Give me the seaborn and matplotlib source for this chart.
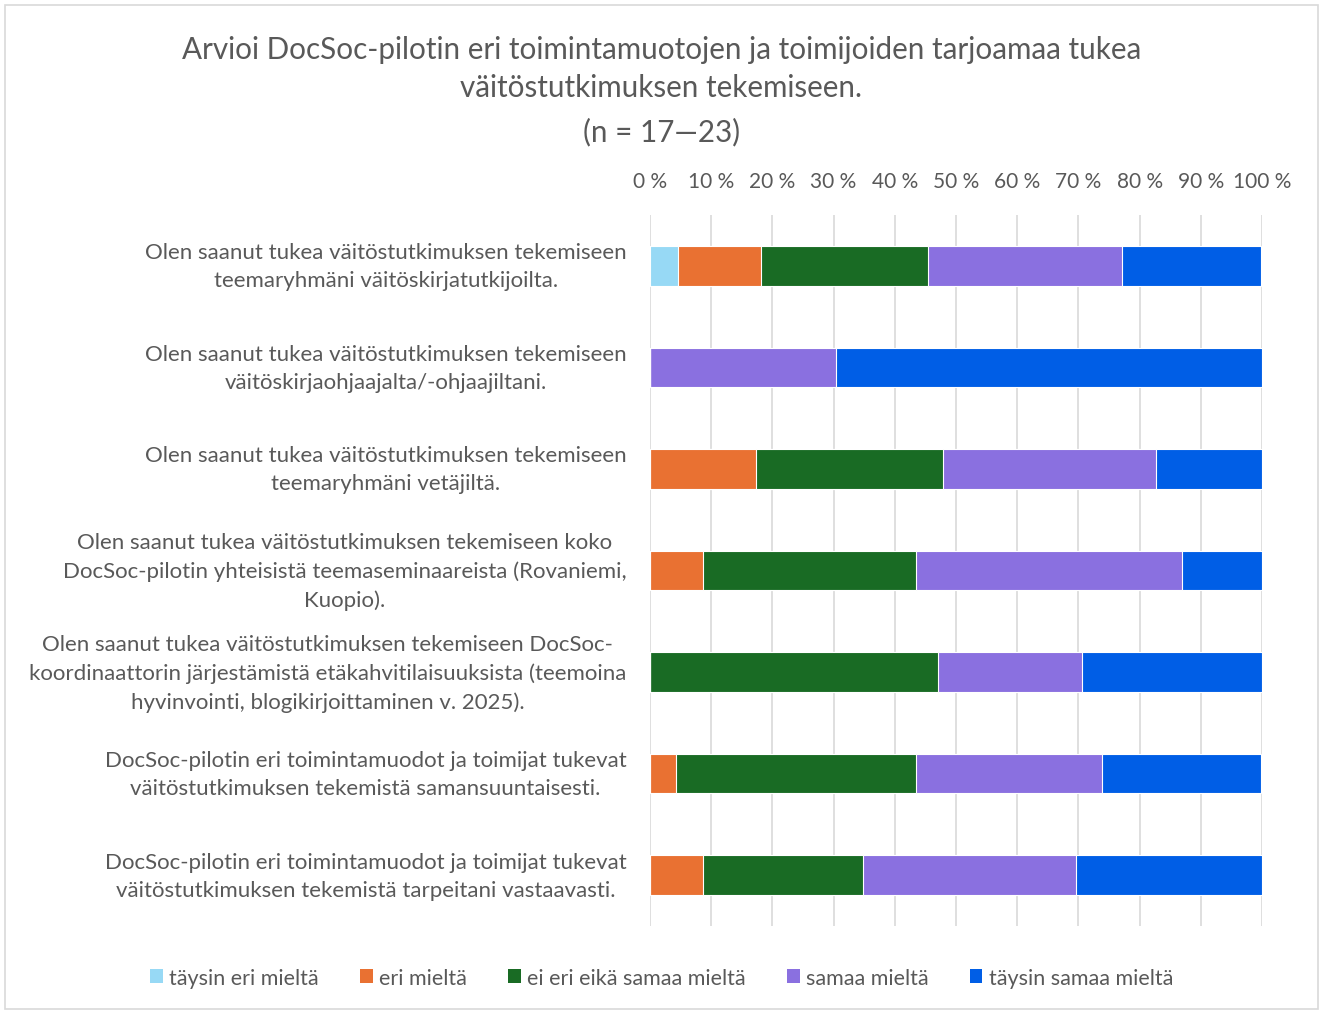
import numpy as np
import pandas as pd
import matplotlib.pyplot as plt
import matplotlib.transforms as mtransforms
import seaborn as sns
from matplotlib.patches import Rectangle, Patch

# Statements (y categories), wrapped as in the original chart
statements = [
    "Olen saanut tukea väitöstutkimuksen tekemiseen\nteemaryhmäni väitöskirjatutkijoilta.",
    "Olen saanut tukea väitöstutkimuksen tekemiseen\nväitöskirjaohjaajalta/-ohjaajiltani.",
    "Olen saanut tukea väitöstutkimuksen tekemiseen\nteemaryhmäni vetäjiltä.",
    "Olen saanut tukea väitöstutkimuksen tekemiseen koko\nDocSoc-pilotin yhteisistä teemaseminaareista (Rovaniemi,\nKuopio).",
    "Olen saanut tukea väitöstutkimuksen tekemiseen DocSoc-\nkoordinaattorin järjestämistä etäkahvitilaisuuksista (teemoina\nhyvinvointi, blogikirjoittaminen v. 2025).",
    "DocSoc-pilotin eri toimintamuodot ja toimijat tukevat\nväitöstutkimuksen tekemistä samansuuntaisesti.",
    "DocSoc-pilotin eri toimintamuodot ja toimijat tukevat\nväitöstutkimuksen tekemistä tarpeitani vastaavasti.",
]

answers = ["täysin eri mieltä", "eri mieltä", "ei eri eikä samaa mieltä",
           "samaa mieltä", "täysin samaa mieltä"]

# shares (%) per answer option, one value per statement
taysin_eri = [4.5, 0.0, 0.0, 0.0, 0.0, 0.0, 0.0]
eri = [13.6, 0.0, 17.4, 8.7, 0.0, 4.3, 8.7]
ei_eri_eika_samaa = [27.3, 0.0, 30.4, 34.8, 47.1, 39.1, 26.1]
samaa = [31.8, 30.4, 34.8, 43.5, 23.5, 30.4, 34.8]
taysin_samaa = [22.7, 69.6, 17.4, 13.0, 29.4, 26.1, 30.4]

colors = ["#97D9F5", "#E97132", "#196B24", "#8A70E0", "#005EE6"]

df = pd.DataFrame({
    "statement": statements,
    answers[0]: taysin_eri,
    answers[1]: eri,
    answers[2]: ei_eri_eika_samaa,
    answers[3]: samaa,
    answers[4]: taysin_samaa,
})
cum = df[answers].cumsum(axis=1)

sns.set_style("white")
plt.rcParams["font.family"] = ["Lato", "DejaVu Sans"]
text_col = "#595959"

fig = plt.figure(figsize=(13.23, 10.12), dpi=100)
ax = fig.add_axes([0.4913, 0.084, 0.4626, 0.7026])

# stacked bars: draw cumulative totals from the right-most segment backwards
for i in range(len(answers) - 1, -1, -1):
    sns.barplot(x=cum[answers[i]], y=df["statement"], orient="h",
                color=colors[i], width=0.39, edgecolor="white",
                linewidth=0.8, saturation=1, ax=ax, zorder=3)

ax.set_xlim(0, 100)
ax.set_xticks(np.arange(0, 101, 10))
ax.set_xticklabels([f"{v} %" for v in range(0, 101, 10)])
ax.xaxis.tick_top()
ax.tick_params(axis="x", length=0, pad=17, labelsize=15, labelcolor=text_col)
ax.tick_params(axis="y", length=0, pad=17, labelsize=16, labelcolor=text_col)

# nudge the category labels up a little, as in the original
shift = mtransforms.ScaledTranslation(0, 4 / 72, fig.dpi_scale_trans)
for lab in ax.get_yticklabels():
    lab.set_multialignment("center")
    lab.set_linespacing(1.5)
    lab.set_transform(lab.get_transform() + shift)

ax.set_xlabel("")
ax.set_ylabel("")
ax.grid(axis="x", color="#D9D9D9", linewidth=1.2, zorder=0)
ax.grid(axis="y", visible=False)
for s in ax.spines.values():
    s.set_visible(False)

fig.text(0.5, 0.951, "Arvioi DocSoc-pilotin eri toimintamuotojen ja toimijoiden tarjoamaa tukea",
         ha="center", va="center", fontsize=21.3, color=text_col)
fig.text(0.5, 0.913, "väitöstutkimuksen tekemiseen.",
         ha="center", va="center", fontsize=21.3, color=text_col)
fig.text(0.5, 0.869, "(n = 17\u201423)",
         ha="center", va="center", fontsize=21.3, color=text_col)

handles = [Patch(facecolor=c, edgecolor="none") for c in colors]
fig.legend(handles, answers, loc="center", bbox_to_anchor=(0.5, 0.033), ncol=5,
           frameon=False, fontsize=15.5, labelcolor=text_col,
           handlelength=0.6, handleheight=0.6, handletextpad=0.3, columnspacing=1.9)

fig.add_artist(Rectangle((0.004, 0.002), 0.992, 0.992, transform=fig.transFigure,
                         fill=False, edgecolor="#D9D9D9", linewidth=1.2))

fig.savefig("out.png", dpi=100)
